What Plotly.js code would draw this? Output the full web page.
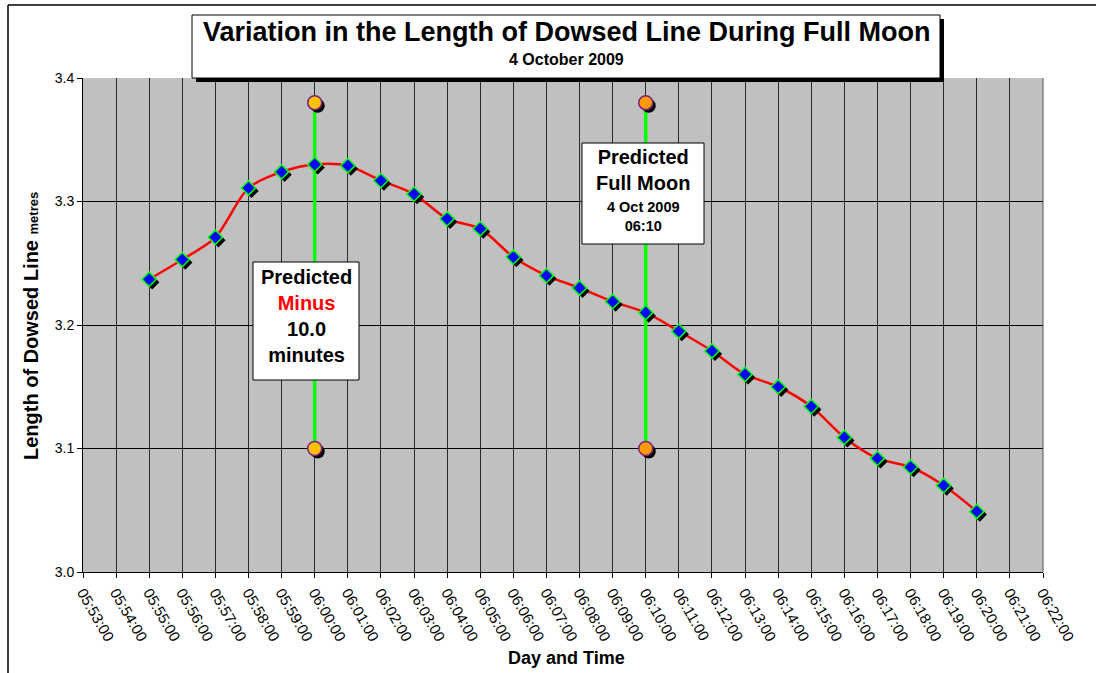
<!DOCTYPE html>
<html>
<head>
<meta charset="utf-8">
<script src="https://cdn.plot.ly/plotly-3.0.1.min.js"></script>
<style>
  html, body { margin: 0; padding: 0; background: #ffffff; overflow: hidden; }
  #chart { position: absolute; left: 0; top: 0; width: 1096px; height: 673px; }
</style>
</head>
<body>
<div id="chart"></div>
<script>
// ---- data ----
const day = '2009-10-04';
const times = ['05:55:00','05:56:00','05:57:00','05:58:00','05:59:00','06:00:00','06:01:00','06:02:00','06:03:00','06:04:00','06:05:00','06:06:00','06:07:00','06:08:00','06:09:00','06:10:00','06:11:00','06:12:00','06:13:00','06:14:00','06:15:00','06:16:00','06:17:00','06:18:00','06:19:00','06:20:00'];
const lengths = [3.237,3.253,3.271,3.311,3.324,3.330,3.329,3.317,3.306,3.286,3.278,3.255,3.240,3.230,3.219,3.210,3.195,3.179,3.160,3.150,3.134,3.109,3.092,3.085,3.070,3.049];
const minusTime = '06:00:00';
const fullMoonTime = '06:10:00';
const markerLevels = [3.38, 3.10];
const axisStart = '05:53:00';
const axisEnd = '06:22:00';
const yRange = [3.0, 3.4];

// ---- layout geometry ----
const W = 1096, H = 673;
const M = {l: 83, r: 53, t: 78, b: 101};
const PW = W - M.l - M.r, PH = H - M.t - M.b;
const px = x => (x - M.l) / PW;
const py = y => (H - M.b - y) / PH;
const FONT = 'Liberation Sans, Arial, Helvetica, sans-serif';

const t = s => Date.parse(day + 'T' + s + 'Z');
const xs = times.map(t);
const spanMs = t(axisEnd) - t(axisStart);
const shadowDx = 3 * spanMs / PW;
const shadowDy = -3 * (yRange[1] - yRange[0]) / PH;

const traces = [];
// green vertical lines
[minusTime, fullMoonTime].forEach(tm => {
  traces.push({x: [t(tm), t(tm)], y: markerLevels, mode: 'lines',
    line: {color: '#00FF00', width: 3.5}, hoverinfo: 'skip'});
});
// red smoothed line
traces.push({x: xs, y: lengths, mode: 'lines',
  line: {color: '#FF0000', width: 2.5, shape: 'spline', smoothing: 0.8}});
// diamond shadows
traces.push({x: xs.map(v => v + shadowDx), y: lengths.map(v => v + shadowDy), mode: 'markers',
  marker: {symbol: 'diamond', size: 11, color: '#000000', line: {width: 0}}});
// diamonds
traces.push({x: xs, y: lengths, mode: 'markers',
  marker: {symbol: 'diamond', size: 11, color: '#0000FF', line: {color: '#00FF00', width: 1.5}}});
// circle markers with shadows
const circleColors = {[minusTime]: '#FFC000', [fullMoonTime]: '#FF9900'};
[minusTime, fullMoonTime].forEach(tm => {
  traces.push({x: markerLevels.map(() => t(tm) + shadowDx), y: markerLevels.map(v => v + shadowDy), mode: 'markers',
    marker: {symbol: 'circle', size: 14, color: '#000000', line: {width: 0}}});
  traces.push({x: markerLevels.map(() => t(tm)), y: markerLevels, mode: 'markers',
    marker: {symbol: 'circle', size: 14, color: circleColors[tm], line: {color: '#7F1F7F', width: 1.5}}});
});

const shapes = [
  // outer frame
  {type: 'line', xref: 'paper', yref: 'paper', x0: px(8), x1: px(1100), y0: py(5), y1: py(5), line: {color: '#000', width: 1.5}},
  {type: 'line', xref: 'paper', yref: 'paper', x0: px(8), x1: px(8), y0: py(5), y1: py(680), line: {color: '#000', width: 1.5}},
  // right plot edge gridline
  {type: 'line', xref: 'paper', yref: 'paper', x0: 1, x1: 1, y0: 0, y1: 1, line: {color: '#555', width: 1}},
  // title box shadow and box
  {type: 'rect', xref: 'paper', yref: 'paper', layer: 'above', x0: px(196), x1: px(944), y0: py(19), y1: py(82), fillcolor: '#000', line: {width: 0}},
  {type: 'rect', xref: 'paper', yref: 'paper', layer: 'above', x0: px(192), x1: px(940), y0: py(15), y1: py(78), fillcolor: '#fff', line: {color: '#000', width: 1}},
  // full moon box
  {type: 'rect', xref: 'paper', yref: 'paper', layer: 'above', x0: px(582), x1: px(704), y0: py(143), y1: py(244), fillcolor: '#fff', line: {color: '#000', width: 1}},
  // minus box
  {type: 'rect', xref: 'paper', yref: 'paper', layer: 'above', x0: px(253), x1: px(359), y0: py(262), y1: py(380), fillcolor: '#fff', line: {color: '#000', width: 1}}
];

const ann = (x, y, text, size, extra) => Object.assign({xref: 'paper', yref: 'paper', x: px(x), y: py(y),
  xanchor: 'center', yanchor: 'middle', showarrow: false, text: text,
  font: {family: FONT, size: size, color: '#000', weight: 'bold'}}, extra || {});

const annotations = [
  ann(566, 32, 'Variation in the Length of Dowsed Line During Full Moon', 27),
  ann(566, 60, '4 October 2009', 16),
  ann(566, 658, 'Day and Time', 18),
  ann(31, 326, 'Length of Dowsed Line <span style="font-size:13px">metres</span>', 20, {textangle: -90}),
  ann(643, 170, 'Predicted<br>Full Moon', 20),
  ann(643, 216, '4 Oct 2009<br>06:10', 14.5),
  ann(306, 316, 'Predicted<br><span style="color:#FF0000">Minus</span><br>10.0<br>minutes', 20)
];

const layout = {
  width: W, height: H,
  margin: M,
  paper_bgcolor: '#ffffff',
  plot_bgcolor: '#C0C0C0',
  showlegend: false,
  font: {family: FONT, color: '#000'},
  xaxis: {
    type: 'date', range: [t(axisStart), t(axisEnd)],
    tick0: t(axisStart), dtick: 60000, tickformat: '%H:%M:%S',
    tickangle: 60, ticks: 'outside', ticklen: 5, tickcolor: '#000',
    tickfont: {family: FONT, size: 15, color: '#000'},
    showgrid: true, gridcolor: '#2a2a2a', gridwidth: 1,
    showline: true, linecolor: '#000', linewidth: 1,
    zeroline: false, fixedrange: true
  },
  yaxis: {
    range: yRange, dtick: 0.1, tick0: 3.0, tickformat: '.1f',
    ticks: 'outside', ticklen: 5, tickcolor: '#000',
    tickfont: {family: FONT, size: 14, color: '#000'},
    showgrid: true, gridcolor: '#000', gridwidth: 1,
    showline: true, linecolor: '#000', linewidth: 1,
    zeroline: false, fixedrange: true
  },
  shapes: shapes,
  annotations: annotations
};

Plotly.newPlot('chart', traces, layout, {displayModeBar: false, staticPlot: true});
</script>
</body>
</html>
